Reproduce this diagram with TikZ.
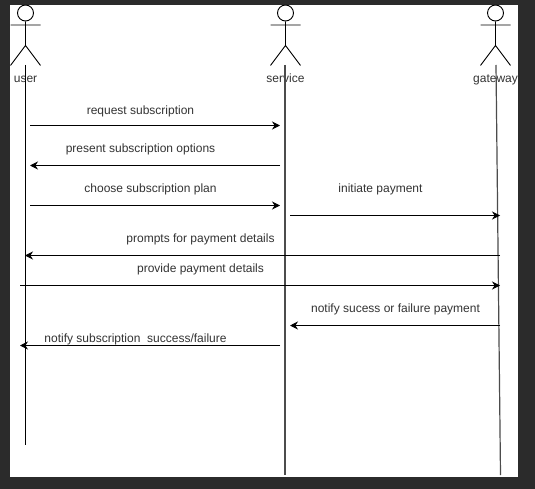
\documentclass[tikz,border=0pt]{standalone}
\usepackage{fontspec}
\setmainfont{Liberation Sans}
\usetikzlibrary{arrows.meta, positioning}
\definecolor{pagedark}{HTML}{2B2B2B}
\definecolor{labelgray}{HTML}{333333}
\tikzstyle{actorhead} = [circle, minimum size=16pt, inner sep=0pt, line width=0.9pt, draw=black, fill=white]
\tikzstyle{actorname} = [inner sep=0pt, anchor=base, text=labelgray, font=\fontsize{12}{14}\selectfont]
\tikzstyle{msg} = [inner sep=0pt, anchor=base, text=labelgray, font=\fontsize{12}{14}\selectfont]
\tikzstyle{stick} = [line width=0.9pt, draw=black]
\tikzstyle{lifeline} = [line width=1.2pt, draw=black!70]
\tikzstyle{arrow} = [line width=1pt,-{Stealth[length=8pt,width=8pt]}]

\begin{document}
\begin{tikzpicture}[x=1pt, y=-1pt]
    \useasboundingbox (0,0) rectangle (535,489);
    \fill [pagedark] (0,0) rectangle (535,489);
    \fill [white] (10,5) rectangle (518,477);

    \node (userhead) [actorhead] at (25.5,13) {};
    \node (servicehead) [actorhead] at (285.5,13) {};
    \node (gatewayhead) [actorhead] at (495.5,13) {};

    \draw [stick] (userhead.south) -- ++(0,24) -- ++(-15,20) ++(15,-20) -- ++(15,20) (10.5,25) -- (40.5,25);
    \draw [stick] (servicehead.south) -- ++(0,24) -- ++(-15,20) ++(15,-20) -- ++(15,20) (270.5,25) -- (300.5,25);
    \draw [stick] (gatewayhead.south) -- ++(0,24) -- ++(-15,20) ++(15,-20) -- ++(15,20) (480.5,25) -- (510.5,25);

    \node (user) [actorname] at (25.5,83) {user};
    \node (service) [actorname] at (285.5,83) {service};
    \node (gateway) [actorname] at (495.5,83) {gateway};

    % lifelines
    \coordinate (usertop) at (25.5,65);
    \coordinate (userend) at (25.5,445);
    \coordinate (servicetop) at (285,65);
    \coordinate (serviceend) at (285,475);
    \coordinate (gatewaytop) at (496,65);
    \coordinate (gatewayend) at (500.5,475);
    \draw [lifeline, draw=black] (usertop) -- (userend);
    \draw [lifeline] (servicetop) -- (serviceend);
    \draw [lifeline] (gatewaytop) -- (gatewayend);

    % messages
    \coordinate (requestfrom) at (30,125.5);
    \coordinate (requestto) at (280,125.5);
    \coordinate (presentfrom) at (280,165.5);
    \coordinate (presentto) at (30,165.5);
    \coordinate (choosefrom) at (30,205.5);
    \coordinate (chooseto) at (280,205.5);
    \coordinate (initiatefrom) at (290,215.5);
    \coordinate (initiateto) at (500,215.5);
    \coordinate (promptsfrom) at (500,255.5);
    \coordinate (promptsto) at (25,255.5);
    \coordinate (providefrom) at (20,285.5);
    \coordinate (provideto) at (500,285.5);
    \coordinate (notifyfrom) at (500,325.5);
    \coordinate (notifyto) at (290,325.5);
    \coordinate (resultfrom) at (280,345.5);
    \coordinate (resultto) at (20,345.5);

    \draw [arrow] (requestfrom) -- (requestto);
    \draw [arrow] (presentfrom) -- (presentto);
    \draw [arrow] (choosefrom) -- (chooseto);
    \draw [arrow] (initiatefrom) -- (initiateto);
    \draw [arrow] (promptsfrom) -- (promptsto);
    \draw [arrow] (providefrom) -- (provideto);
    \draw [arrow] (notifyfrom) -- (notifyto);
    \draw [arrow] (resultfrom) -- (resultto);

    \node (requestlabel) [msg] at (140.5,114.5) {request subscription};
    \node (presentlabel) [msg] at (140.5,152.5) {present subscription options};
    \node (chooselabel) [msg] at (150.5,192.5) {choose subscription plan};
    \node (initiatelabel) [msg] at (380.5,192.5) {initiate payment};
    \node (promptslabel) [msg] at (200.5,242) {prompts for payment details};
    \node (providelabel) [msg] at (200.5,272) {provide payment details};
    \node (notifylabel) [msg] at (395.5,312) {notify sucess or failure payment};
    \node (resultlabel) [msg] at (135.5,342) {notify subscription\ \ success/failure};
\end{tikzpicture}
\end{document}
